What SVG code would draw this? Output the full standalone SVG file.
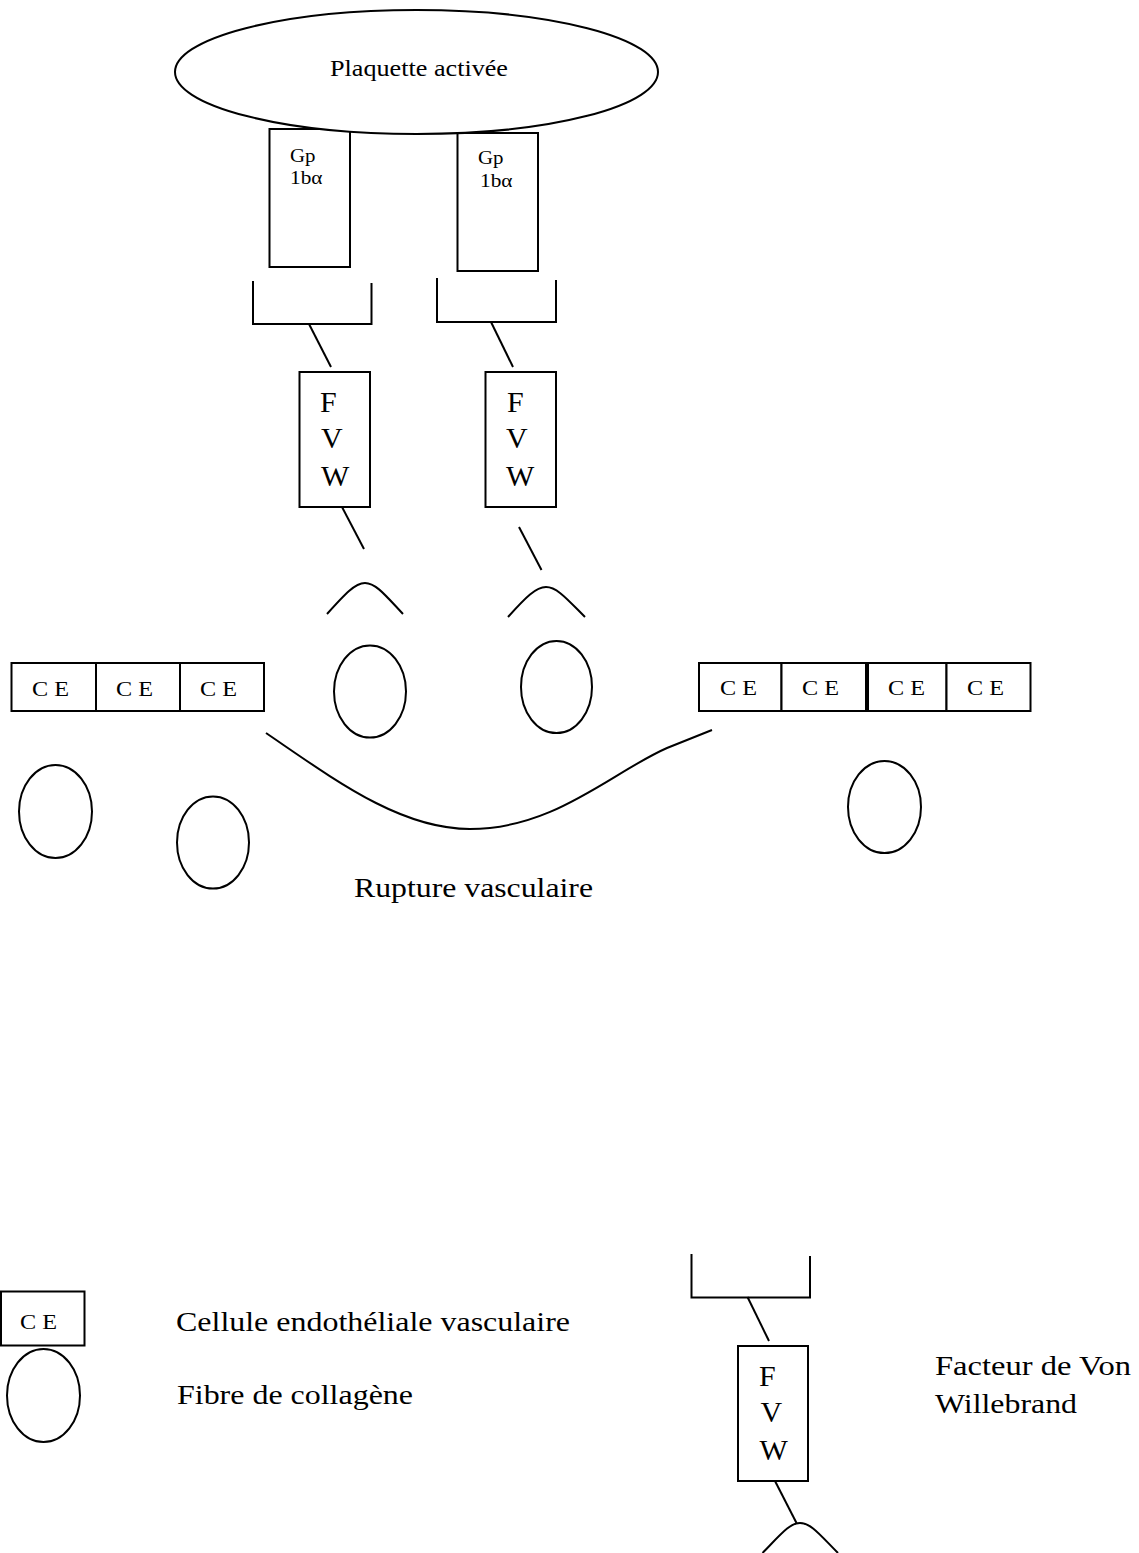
<svg xmlns="http://www.w3.org/2000/svg" width="1139" height="1553" viewBox="0 0 1139 1553">
  <style>
    .shape { fill: #fff; stroke: #000; stroke-width: 2; }
    .line { fill: none; stroke: #000; stroke-width: 2; stroke-linecap: butt; }
    text { font-family: "Liberation Serif", "Times New Roman", serif; fill: #000; }
    .big { font-size: 28px; }
    .mid { font-size: 24px; }
    .ce { font-size: 22px; }
    .gp { font-size: 19px; }
    .fvw { font-size: 30px; }
  </style>

  <!-- glycoprotein receptors (drawn under the platelet outline) -->
  <g id="gp-left">
    <rect class="shape" x="269.5" y="129" width="80.5" height="138"/>
    <text class="gp" x="290" y="161.5" textLength="25.5" lengthAdjust="spacingAndGlyphs">Gp</text>
    <text class="gp" x="290" y="183.5" textLength="32.5" lengthAdjust="spacingAndGlyphs">1bα</text>
  </g>
  <g id="gp-right">
    <rect class="shape" x="457.5" y="133" width="80.5" height="138"/>
    <text class="gp" x="478" y="163.5" textLength="25.5" lengthAdjust="spacingAndGlyphs">Gp</text>
    <text class="gp" x="480" y="187" textLength="32.5" lengthAdjust="spacingAndGlyphs">1bα</text>
  </g>

  <!-- activated platelet -->
  <g id="platelet">
    <ellipse class="shape" cx="416.5" cy="72" rx="241.5" ry="62"/>
    <text class="mid" x="330" y="76" textLength="178" lengthAdjust="spacingAndGlyphs">Plaquette activée</text>
  </g>

  <!-- von Willebrand factor units -->
  <g id="fvw-left">
    <path class="line" d="M253,281 V324 H371.5 V283"/>
    <rect class="shape" x="299.5" y="372" width="70.5" height="135"/>
    <text class="fvw" x="320" y="412">F</text>
    <text class="fvw" x="321" y="448">V</text>
    <text class="fvw" x="321" y="486">W</text>
  </g>
  <g id="fvw-right">
    <path class="line" d="M437,278 V322 H556 V280"/>
    <rect class="shape" x="485.5" y="372" width="70.5" height="135"/>
    <text class="fvw" x="507" y="412">F</text>
    <text class="fvw" x="506" y="448">V</text>
    <text class="fvw" x="506" y="486">W</text>
  </g>

  <!-- endothelial cells, left side -->
  <g id="endothelium-left">
    <rect class="shape" x="11.5" y="663" width="84.5" height="48"/>
    <rect class="shape" x="96" y="663" width="84" height="48"/>
    <rect class="shape" x="180" y="663" width="84" height="48"/>
    <text class="ce" x="32" y="696" textLength="37" lengthAdjust="spacingAndGlyphs">C E</text>
    <text class="ce" x="116" y="696" textLength="37" lengthAdjust="spacingAndGlyphs">C E</text>
    <text class="ce" x="200" y="696" textLength="37" lengthAdjust="spacingAndGlyphs">C E</text>
  </g>

  <!-- endothelial cells, right side -->
  <g id="endothelium-right">
    <rect class="shape" x="699" y="663" width="82.5" height="48"/>
    <rect class="shape" x="781.5" y="663" width="84.5" height="48"/>
    <rect class="shape" x="868" y="663" width="78.5" height="48"/>
    <rect class="shape" x="946.5" y="663" width="84" height="48"/>
    <text class="ce" x="720" y="695" textLength="37" lengthAdjust="spacingAndGlyphs">C E</text>
    <text class="ce" x="802" y="695" textLength="37" lengthAdjust="spacingAndGlyphs">C E</text>
    <text class="ce" x="888" y="695" textLength="37" lengthAdjust="spacingAndGlyphs">C E</text>
    <text class="ce" x="967" y="695" textLength="37" lengthAdjust="spacingAndGlyphs">C E</text>
  </g>

  <!-- collagen fibres -->
  <g id="collagen-1"><ellipse class="shape" cx="370" cy="691.5" rx="36" ry="46"/></g>
  <g id="collagen-2"><ellipse class="shape" cx="556.5" cy="687" rx="35.5" ry="46"/></g>
  <g id="collagen-3"><ellipse class="shape" cx="55.5" cy="811.5" rx="36.5" ry="46.5"/></g>
  <g id="collagen-4"><ellipse class="shape" cx="213" cy="842.5" rx="36" ry="46"/></g>
  <g id="collagen-5"><ellipse class="shape" cx="884.5" cy="807" rx="36.5" ry="46"/></g>

  <!-- vessel wall rupture -->
  <g id="rupture">
    <path class="line" d="M266,733 C335,780 400,829 470,829 C555,829 612,772 667,748 L712,730"/>
    <text class="big" x="354" y="897" textLength="239" lengthAdjust="spacingAndGlyphs">Rupture vasculaire</text>
  </g>

  <!-- links between receptor, factor and collagen -->
  <g id="connectors">
    <line class="line" x1="309" y1="324" x2="331" y2="367"/>
    <line class="line" x1="491" y1="322" x2="513" y2="367"/>
    <line class="line" x1="342" y1="507" x2="364" y2="549"/>
    <line class="line" x1="519" y1="527" x2="541.5" y2="570"/>
    <path class="line" d="M327,614 C345,594 355,583 365,583 C376,583 386,596 403,614"/>
    <path class="line" d="M508,617 C526,597 536,587 546,587 C557,587 567,599 585,617"/>
    <!-- legend symbol links -->
    <line class="line" x1="747.5" y1="1297" x2="769" y2="1341"/>
    <line class="line" x1="775" y1="1481" x2="796.5" y2="1523"/>
    <path class="line" d="M762.5,1553 C782,1533 790,1523 800,1523 C811,1523 820,1535 838,1553"/>
  </g>

  <!-- legend -->
  <g id="legend-ce">
    <rect class="shape" x="1" y="1291.5" width="83.5" height="54"/>
    <text class="ce" x="20" y="1329" textLength="37" lengthAdjust="spacingAndGlyphs">C E</text>
    <text class="big" x="176" y="1331" textLength="394" lengthAdjust="spacingAndGlyphs">Cellule endothéliale vasculaire</text>
  </g>
  <g id="legend-collagen">
    <ellipse class="shape" cx="43.5" cy="1395.5" rx="36.5" ry="46.5"/>
    <text class="big" x="177" y="1404" textLength="236" lengthAdjust="spacingAndGlyphs">Fibre de collagène</text>
  </g>
  <g id="legend-fvw">
    <path class="line" d="M691.5,1254 V1297.5 H810 V1256"/>
    <rect class="shape" x="738" y="1346" width="70" height="135"/>
    <text class="fvw" x="759" y="1386">F</text>
    <text class="fvw" x="760.5" y="1422">V</text>
    <text class="fvw" x="759.5" y="1460">W</text>
    <text class="big" x="935" y="1375" textLength="196" lengthAdjust="spacingAndGlyphs">Facteur de Von</text>
    <text class="big" x="935" y="1413" textLength="142" lengthAdjust="spacingAndGlyphs">Willebrand</text>
  </g>
</svg>
